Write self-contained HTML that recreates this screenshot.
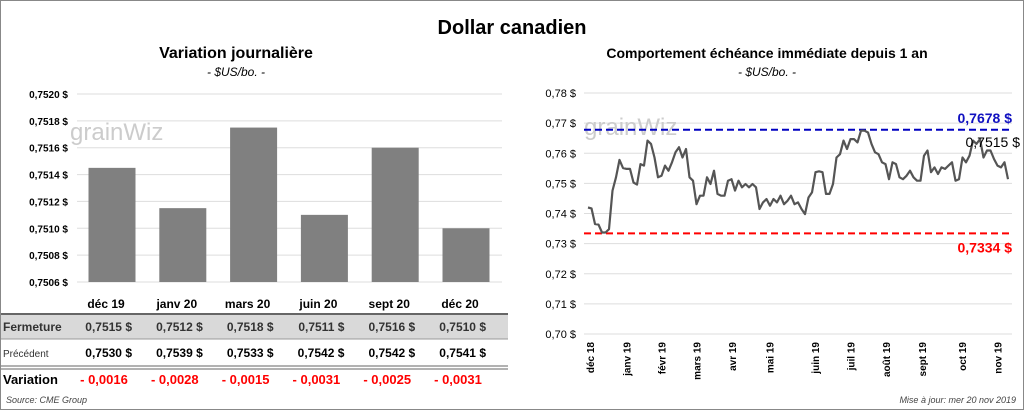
<!DOCTYPE html>
<html><head><meta charset="utf-8">
<style>
body{margin:0;background:#fff;font-family:"Liberation Sans",sans-serif;}
#wrap{position:relative;width:1024px;height:410px;overflow:hidden;}
svg text{font-family:"Liberation Sans",sans-serif;}
</style></head>
<body>
<div id="wrap">
<svg id="svg" width="1024" height="410" xmlns="http://www.w3.org/2000/svg">
<rect x="0.5" y="0.5" width="1023" height="409" fill="#fff" stroke="#888"/>
<text x="512" y="34" text-anchor="middle" font-size="20" font-weight="bold">Dollar canadien</text>
<text x="236" y="58" text-anchor="middle" font-size="16" font-weight="bold">Variation  journalière</text>
<text x="236" y="76" text-anchor="middle" font-size="12" font-style="italic">- $US/bo. -</text>
<text x="767" y="58" text-anchor="middle" font-size="14" font-weight="bold">Comportement échéance immédiate depuis 1 an</text>
<text x="767" y="76" text-anchor="middle" font-size="12" font-style="italic">- $US/bo. -</text>
<g id="left"></g>
<g id="table"></g>
<g id="right"></g>
<text x="6" y="403" font-size="9" font-style="italic" fill="#444">Source: CME Group</text>
<text x="1016" y="403" text-anchor="end" font-size="9" font-style="italic" fill="#444">Mise à jour: mer 20 nov 2019</text>
</svg>
</div>
<script>
const barCats=["déc 19","janv 20","mars 20","juin 20","sept 20","déc 20"];
const barVals=[0.75145,0.75115,0.75175,0.7511,0.7516,0.7510];
const barTicks=[0.7506,0.7508,0.7510,0.7512,0.7514,0.7516,0.7518,0.7520];
const fermeture=["0,7515","0,7512","0,7518","0,7511","0,7516","0,7510"];
const precedent=["0,7530","0,7539","0,7533","0,7542","0,7542","0,7541"];
const variation=["- 0,0016","- 0,0028","- 0,0015","- 0,0031","- 0,0025","- 0,0031"];
const lineTicks=[0.70,0.71,0.72,0.73,0.74,0.75,0.76,0.77,0.78];
const monthLabels=["déc 18","janv 19","févr 19","mars 19","avr 19","mai 19","juin 19","juil 19","août 19","sept 19","oct 19","nov 19"];
const monthPos=[0.005,0.092,0.175,0.258,0.343,0.432,0.54,0.625,0.71,0.795,0.89,0.975];
const lineVals=[0.7420,0.7417,0.7365,0.7363,0.7337,0.7337,0.7348,0.7476,0.7520,0.7578,0.7551,0.7548,0.7548,0.7503,0.7496,0.7564,0.7559,0.7642,0.7631,0.7586,0.7520,0.7525,0.7559,0.7542,0.7570,0.7603,0.7620,0.7586,0.7614,0.7520,0.7509,0.7431,0.7459,0.7459,0.7520,0.7498,0.7542,0.7465,0.7459,0.7459,0.7509,0.7514,0.7476,0.7509,0.7487,0.7498,0.7487,0.7498,0.7487,0.7415,0.7437,0.7448,0.7426,0.7448,0.7437,0.7459,0.7431,0.7442,0.7459,0.7431,0.7437,0.7415,0.7398,0.7453,0.7470,0.7537,0.7540,0.7537,0.7465,0.7465,0.7498,0.7586,0.7597,0.7642,0.7614,0.7647,0.7647,0.7636,0.7675,0.7675,0.7669,0.7631,0.7603,0.7597,0.7570,0.7564,0.7514,0.7570,0.7564,0.7520,0.7514,0.7525,0.7542,0.7520,0.7509,0.7509,0.7592,0.7609,0.7537,0.7553,0.7531,0.7553,0.7548,0.7559,0.7570,0.7509,0.7514,0.7586,0.7570,0.7592,0.7642,0.7631,0.7647,0.7586,0.7609,0.7609,0.7581,0.7559,0.7553,0.7570,0.7514];
const highVal=0.7678, lowVal=0.7334, lastVal="0,7515 $";

const NS="http://www.w3.org/2000/svg";
function mk(tag,attrs,parent,txt){const e=document.createElementNS(NS,tag);for(const k in attrs)e.setAttribute(k,attrs[k]);if(txt!==undefined)e.textContent=txt;parent.appendChild(e);return e;}
const fmt4=v=>v.toFixed(4).replace('.',',')+' $';
const fmt2=v=>v.toFixed(2).replace('.',',')+' $';

// left bar chart
const L=document.getElementById('left');
const ly=v=>282-(v-0.7506)/0.0014*188;
const bx=i=>112+i*70.8;
barTicks.forEach(t=>{
 const g=mk('line',{x1:77,x2:502,y1:ly(t),y2:ly(t),stroke:'#ddd'},L);
 
 
 const tx=mk('text',{x:68,y:ly(t)+4,'text-anchor':'end','font-size':10,'font-weight':'bold'},L,fmt4(t));
 
 
});
const wm=mk('text',{x:70,y:140,'font-size':24,fill:'#ccc'},L,'grainWiz');


barVals.forEach((v,i)=>{
 const r=mk('rect',{x:bx(i)-23.5,y:ly(v),width:47,height:282-ly(v),fill:'#808080'},L);
 
 
});
// table
const T=document.getElementById('table');
const band=mk('rect',{x:1,y:314,width:507,height:25,fill:'#d9d9d9'},T);


const l1=mk('line',{x1:1,x2:508,y1:314,y2:314,stroke:'#666','stroke-width':2},T);


const l2=mk('line',{x1:1,x2:508,y1:339,y2:339,stroke:'#999'},T);


const l3=mk('line',{x1:1,x2:508,y1:366,y2:366,stroke:'#666'},T);


const l4=mk('line',{x1:1,x2:508,y1:369,y2:369,stroke:'#666'},T);


const rl1=mk('text',{x:3,y:331,'font-size':12,'font-weight':'bold',fill:'#333'},T,'Fermeture');


const rl2=mk('text',{x:3,y:357,'font-size':10,fill:'#333'},T,'Précédent');


const rl3=mk('text',{x:3,y:384,'font-size':13,'font-weight':'bold'},T,'Variation');


barCats.forEach((c,i)=>{
 const cx=bx(i)-6;
 const h=mk('text',{x:cx,y:308,'text-anchor':'middle','font-size':12,'font-weight':'bold'},T,c);
 
 
 const f=mk('text',{x:cx+26,y:331,'text-anchor':'end','font-size':12,'font-weight':'bold',fill:'#333'},T,fermeture[i]+'  $');
 
 
 f.setAttribute('xml:space','preserve');
 const p=mk('text',{x:cx+26,y:357,'text-anchor':'end','font-size':12,'font-weight':'bold'},T,precedent[i]+'  $');
 
 
 const vv=mk('text',{x:cx-2,y:384,'text-anchor':'middle','font-size':13,'font-weight':'bold',fill:'#f00'},T,variation[i]);
 
 
});
// right line chart
const R=document.getElementById('right');
const x0=588,x1=1008;
const ry=v=>334-(v-0.70)/0.08*241;
lineTicks.forEach(t=>{
 const g=mk('line',{x1:584,x2:1012,y1:ry(t),y2:ry(t),stroke:'#ddd'},R);
 
 
 const tx=mk('text',{x:576,y:ry(t)+4,'text-anchor':'end','font-size':11},R,fmt2(t));
 
 
});
const wm2=mk('text',{x:584,y:135,'font-size':24,fill:'#ccc'},R,'grainWiz');


monthLabels.forEach((m,i)=>{
 const x=x0+monthPos[i]*(x1-x0);
 const tx=mk('text',{x:x+4,y:342,'text-anchor':'end','font-size':10,'font-weight':'bold',transform:`rotate(-90 ${x+4} 342)`},R,m);
 
 
});
const hl=mk('line',{x1:584,x2:1012,y1:ry(highVal),y2:ry(highVal),stroke:'#0000c0','stroke-width':2,'stroke-dasharray':'7 4'},R);


const ll=mk('line',{x1:584,x2:1012,y1:ry(lowVal),y2:ry(lowVal),stroke:'#f00','stroke-width':2,'stroke-dasharray':'7 4'},R);


const n=lineVals.length;
const pts=lineVals.map((v,i)=>(x0+i*(x1-x0)/(n-1)).toFixed(1)+','+ry(v).toFixed(1)).join(' ');
const pl=mk('polyline',{points:pts,fill:'none',stroke:'#555','stroke-width':2.2,'stroke-linejoin':'round'},R);


const ht=mk('text',{x:1012,y:ry(highVal)-7,'text-anchor':'end','font-size':14,'font-weight':'bold',fill:'#1010c0'},R,highVal.toFixed(4).replace('.',',')+' $');


const lt=mk('text',{x:1012,y:ry(lowVal)+19,'text-anchor':'end','font-size':14,'font-weight':'bold',fill:'#f00'},R,lowVal.toFixed(4).replace('.',',')+' $');


const la=mk('text',{x:1020,y:147,'text-anchor':'end','font-size':14},R,lastVal);


</script>
</body></html>
